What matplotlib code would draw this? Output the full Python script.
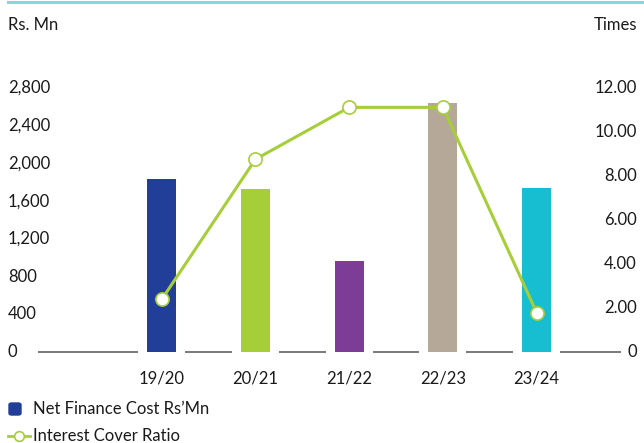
import numpy as np
import matplotlib.pyplot as plt
from matplotlib.lines import Line2D
from matplotlib.patches import FancyBboxPatch
from matplotlib.transforms import blended_transform_factory

plt.rcParams['font.family'] = ['Lato', 'DejaVu Sans']

years = ['19/20', '20/21', '21/22', '22/23', '23/24']
finance_cost = [1835, 1730, 965, 2645, 1740]
cover_ratio = [2.39, 8.76, 11.12, 11.12, 1.79]
bar_colors = ['#213f99', '#a6ce39', '#7d3c96', '#b5a898', '#17bdd0']

left_ticks = [0, 400, 800, 1200, 1600, 2000, 2400, 2800]
right_ticks = [0, 2, 4, 6, 8, 10, 12]
right_labels = ['0', '2.00', '4.00', '6.00', '8.00', '10.00', '12.00']

W, H = 644, 443
FS = 12
TXT = '#1a1a1a'
fig = plt.figure(figsize=(W / 100, H / 100), dpi=100)
ax = fig.add_axes([38 / W, (H - 352) / H, (621 - 38) / W, 264 / H])
ax2 = ax.twinx()

x = np.arange(len(years))
xmin, xmax = -1.32, 4.9
ax.set_xlim(xmin, xmax)
ax.set_ylim(0, 2800)
ax2.set_ylim(0, 12)

ax.bar(x, finance_cost, width=0.31, color=bar_colors, zorder=2)

# baseline broken around each bar
starts = [xmin] + list(x + 0.25)
ends = list(x - 0.25) + [xmax]
ax.hlines([0] * len(starts), starts, ends, color='#555555', lw=1.1, zorder=1,
          clip_on=False)

ax2.plot(x, cover_ratio, color='#a6ce39', lw=2.2, marker='o', ms=9.5,
         mfc='white', mec='#a6ce39', mew=1.2, clip_on=False, zorder=3)

for a in (ax, ax2):
    for s in a.spines.values():
        s.set_visible(False)
    a.set_yticks([])
ax.set_xticks([])
ax.patch.set_visible(False)

tl = blended_transform_factory(fig.transFigure, ax.transData)
for v in left_ticks:
    ax.text(8 / W, v, f'{v:,}', transform=tl, ha='left', va='center',
            fontsize=FS, color=TXT)
tr = blended_transform_factory(fig.transFigure, ax2.transData)
for v, lab in zip(right_ticks, right_labels):
    ax2.text(637 / W, v, lab, transform=tr, ha='right', va='center',
             fontsize=FS, color=TXT)

tx = blended_transform_factory(ax.transData, fig.transFigure)
for xi, lab in zip(x, years):
    ax.text(xi, 1 - 378 / H, lab, transform=tx, ha='center', va='center',
            fontsize=FS, color=TXT)

fig.text(8 / W, 1 - 25 / H, 'Rs. Mn', ha='left', va='center', fontsize=FS,
         color=TXT)
fig.text(637 / W, 1 - 25 / H, 'Times', ha='right', va='center', fontsize=FS,
         color=TXT)

# top teal rule
fig.add_artist(Line2D([8 / W, 1], [1 - 1.5 / H, 1 - 1.5 / H],
                      transform=fig.transFigure, color='#86d6dc', lw=2.2))

# legend
fig.add_artist(FancyBboxPatch((9 / W, 1 - 415 / H), 12 / W, 12 / H,
                              boxstyle='round,pad=0,rounding_size=0.004',
                              transform=fig.transFigure, color='#213f99'))
fig.text(33 / W, 1 - 409 / H, 'Net Finance Cost Rs\u2019Mn', ha='left',
         va='center', fontsize=FS, color=TXT)
fig.add_artist(Line2D([8 / W, 30 / W], [1 - 436 / H, 1 - 436 / H],
                      transform=fig.transFigure, color='#a6ce39', lw=2))
fig.add_artist(Line2D([19 / W], [1 - 436 / H], transform=fig.transFigure,
                      marker='o', ms=7, mfc='white', mec='#a6ce39', mew=1.2))
fig.text(33 / W, 1 - 436 / H, 'Interest Cover Ratio', ha='left',
         va='center', fontsize=FS, color=TXT)

fig.savefig('out.png', dpi=100)
